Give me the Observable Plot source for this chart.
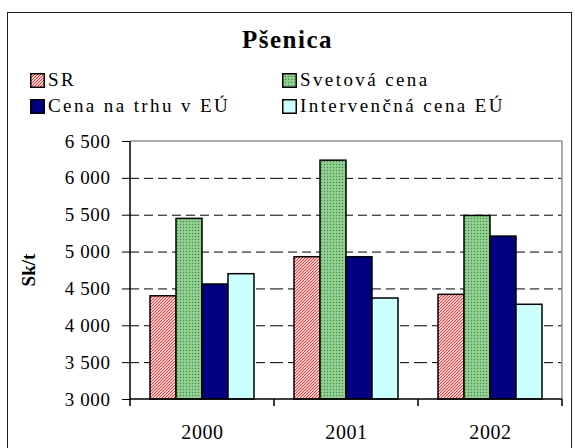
<!DOCTYPE html>
<html><head><meta charset="utf-8">
<script src="https://cdn.jsdelivr.net/npm/d3@7"></script>
<script src="https://cdn.jsdelivr.net/npm/@observablehq/plot@0.6"></script>
<style>
body{margin:0;background:#fff;}
#wrap{position:relative;width:575px;height:448px;overflow:hidden;color:#000;}
#box{position:absolute;left:7px;top:12px;width:565px;height:470px;border:1.5px solid #222;box-sizing:border-box;}
#title{position:absolute;left:0;width:575px;top:26px;text-align:center;font-weight:bold;font-size:25px;letter-spacing:1.5px;line-height:28px;}
.leg{position:absolute;font-size:19px;letter-spacing:2.4px;display:flex;align-items:center;line-height:22px;white-space:nowrap;}
.leg svg{margin-right:3px;}
#ylab{position:absolute;left:29px;top:270px;transform:translate(-50%,-50%) rotate(-90deg);font-weight:bold;font-size:19px;white-space:nowrap;}
#chart{position:absolute;left:0;top:125px;}
</style></head>
<body><div id="wrap" style="font-family:'Liberation Serif'">
<div id="box"></div>
<div id="title" style="font-family:'Liberation Serif'">Pšenica</div>
<div id="legend"></div>
<div id="ylab" style="font-family:'Liberation Serif'">Sk/t</div>
<div id="chart"></div>
</div>
<script>
const years = ["2000", "2001", "2002"];
const series = ["SR", "Svetová cena", "Cena na trhu v EÚ", "Intervenčná cena EÚ"];
const srValues = [4400, 4930, 4420];
const svetovaValues = [5450, 6240, 5490];
const euTrhValues = [4560, 4930, 5210];
const intervValues = [4700, 4370, 4285];
const yTicks = [3000, 3500, 4000, 4500, 5000, 5500, 6000, 6500];
const yTickLabels = ["3 000", "3 500", "4 000", "4 500", "5 000", "5 500", "6 000", "6 500"];

const fills = ["url(#pSR)", "url(#pSv)", "#000080", "#ccffff"];
const seriesValues = [srValues, svetovaValues, euTrhValues, intervValues];
const FONT = "Liberation Serif";

const defsMarkup = `
<pattern id="pSR" patternUnits="userSpaceOnUse" width="3" height="3">
  <rect width="3" height="3" fill="#ffd0d0"/>
  <path d="M-1,1 L1,-1 M0,3 L3,0 M2,4 L4,2" stroke="#ff3030" stroke-width="1"/>
</pattern>
<pattern id="pSv" patternUnits="userSpaceOnUse" width="3" height="3">
  <rect width="3" height="3" fill="#88c888"/>
  <rect x="0" y="0" width="1" height="1" fill="#3e8a3e"/>
  <rect x="1.5" y="1.5" width="1" height="1" fill="#b8e4b8"/>
</pattern>`;

// legend
const legendPos = [[30, 80], [282, 80], [30, 106], [282, 106]];
const legend = d3.select("#legend");
series.forEach((s, i) => {
  const item = legend.append("div").attr("class", "leg")
    .style("font-family", FONT)
    .style("left", legendPos[i][0] + "px")
    .style("top", (legendPos[i][1] - 11) + "px");
  const sv = item.append("svg").attr("width", 15).attr("height", 15);
  if (i === 0) sv.html(`<defs>${defsMarkup.replace(/id="p/g, 'id="lp')}</defs>`);
  sv.append("rect").attr("x", 0.75).attr("y", 0.75).attr("width", 13.5).attr("height", 13.5)
    .attr("fill", fills[i].replace("url(#p", "url(#lp")).attr("stroke", "#000").attr("stroke-width", 1.5);
  item.append("span").text(s);
});

const data = years.flatMap((y, i) => series.map((s, j) => ({year: y, series: s, value: seriesValues[j][i]})));

const plot = Plot.plot({
  width: 575,
  height: 323,
  marginLeft: 130,
  marginRight: 13,
  marginTop: 16,
  marginBottom: 49,
  style: {fontFamily: FONT, fontSize: "19px", color: "#000", background: "transparent", overflow: "visible"},
  fx: {domain: years, padding: 0, label: null, axis: null},
  x: {domain: series, paddingInner: 0, paddingOuter: 0.69, axis: null},
  y: {domain: [3000, 6500], label: null},
  color: {domain: series, range: fills},
  marks: [
    Plot.ruleY(yTicks.slice(1, -1), {stroke: "#000", strokeWidth: 1, strokeDasharray: "9,5"}),
    Plot.barY(data, {fx: "year", x: "series", y1: 3000, y2: "value", fill: "series", stroke: "#000", strokeWidth: 1.5}),
    Plot.axisY({ticks: yTicks, tickFormat: d => yTickLabels[yTicks.indexOf(d)], tickSize: 8, tickPadding: 12, stroke: "#000", label: null}),
    Plot.axisFx({anchor: "bottom", tickSize: 0, tickPadding: 25, label: null, fontSize: 20})
  ]
});
document.getElementById("chart").appendChild(plot);

// frame & boundary ticks from library scales
const svg = d3.select(plot);
svg.insert("defs", ":first-child").html(defsMarkup);
const ys = plot.scale("y"), fxs = plot.scale("fx");
const yb = ys.apply(3000), yt = ys.apply(6500);
const xl = fxs.apply(years[0]);
const xr = fxs.apply(years[years.length - 1]) + fxs.bandwidth;
const g = svg.append("g");
g.append("line").attr("x1", xl).attr("x2", xr).attr("y1", yt).attr("y2", yt).attr("stroke", "#909090").attr("stroke-width", 1.5);
g.append("line").attr("x1", xr).attr("x2", xr).attr("y1", yt).attr("y2", yb).attr("stroke", "#909090").attr("stroke-width", 1.5);
g.append("line").attr("x1", xl).attr("x2", xl).attr("y1", yt).attr("y2", yb).attr("stroke", "#000").attr("stroke-width", 1.5);
g.append("line").attr("x1", xl).attr("x2", xr).attr("y1", yb).attr("y2", yb).attr("stroke", "#000").attr("stroke-width", 1.5);
const bounds = years.map(y => fxs.apply(y)).concat([xr]);
bounds.forEach(x => g.append("line").attr("x1", x).attr("x2", x).attr("y1", yb).attr("y2", yb + 7).attr("stroke", "#000").attr("stroke-width", 1.5));
svg.selectAll("text").attr("letter-spacing", "0.6px").attr("font-family", FONT).style("font-family", FONT);
</script>
</body></html>
